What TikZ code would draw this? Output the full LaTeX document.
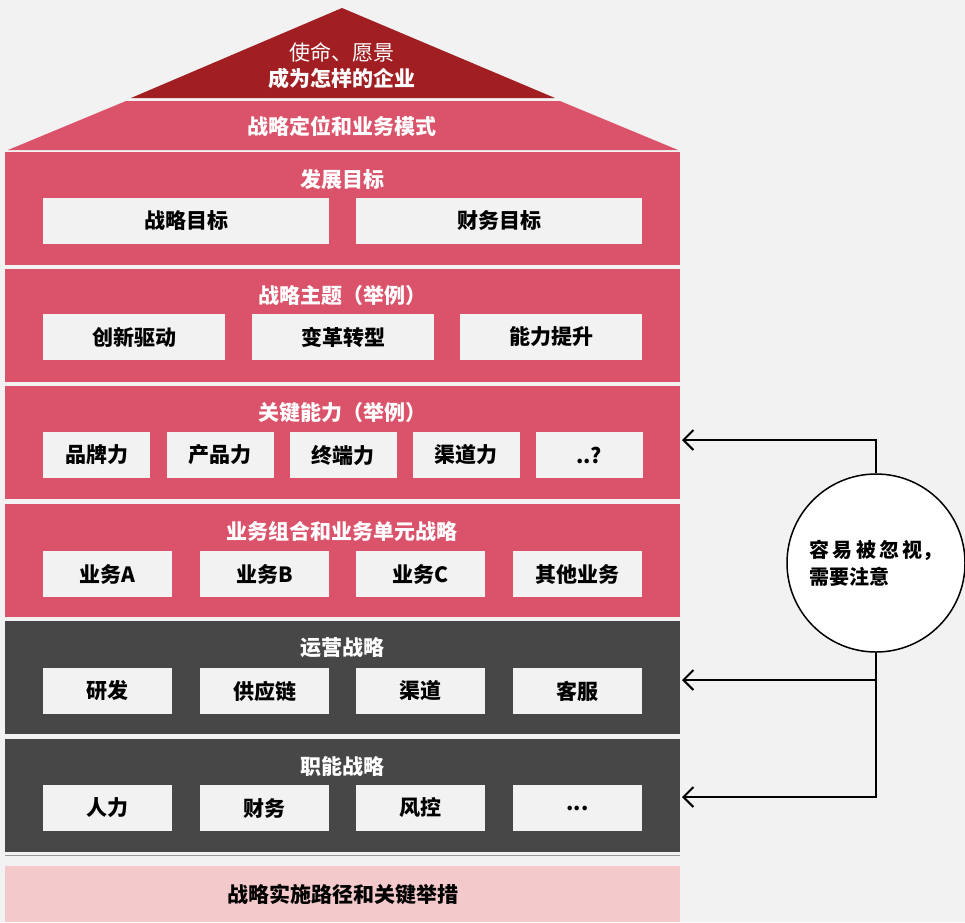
\documentclass[tikz,border=0pt]{standalone}
\usepackage{fontspec}
\setmainfont{Noto Sans CJK SC}
\usetikzlibrary{arrows.meta}
\definecolor{bg}{HTML}{F2F2F2}
\definecolor{pk}{HTML}{DB536A}
\definecolor{dred}{HTML}{A11F23}
\definecolor{dgray}{HTML}{474747}
\definecolor{lpk}{HTML}{F4C9CB}
\definecolor{boxc}{HTML}{F2F2F2}
\begin{document}
\begin{tikzpicture}[x=1pt,y=-1pt,
  rowbox/.style={rectangle,inner sep=0pt,minimum width=675pt,minimum height=113pt},
  ttl/.style={text=white,font=\bfseries\fontsize{21}{24}\selectfont,inner sep=0pt},
  item/.style={rectangle,fill=boxc,inner sep=0pt,minimum height=46pt,font=\bfseries\fontsize{21}{24}\selectfont,text=black},
  conn/.style={line width=2pt,-{Straight Barb[length=10pt,width=20pt,line width=2pt]}}]
\fill[bg] (0,0) rectangle (965,922);
\useasboundingbox (0,0) rectangle (965,922);
% roof
\fill[dred] (131,98) -- (342,8) -- (555,98) -- cycle;
\node[text=white,font=\fontsize{21}{24}\selectfont,inner sep=0pt] (mis) at (342,52) {使命、愿景};
\node[ttl] (ent) at (342,78) {成为怎样的企业};
\fill[pk] (126,101) -- (560,101) -- (678,150) -- (8,150) -- cycle;
\node[ttl] (pos) at (342,126) {战略定位和业务模式};
% rows
\node[rowbox,fill=pk] (r1) at (342.5,208.5) {};
\node[rowbox,fill=pk] (r2) at (342.5,325) {};
\node[rowbox,fill=pk] (r3) at (342.5,442.5) {};
\node[rowbox,fill=pk] (r4) at (342.5,560) {};
\node[rowbox,fill=dgray] (r5) at (342.5,677.5) {};
\node[rowbox,fill=dgray] (r6) at (342.5,795) {};
\node[ttl] (t1) at (342,180) {发展目标};
\node[ttl] (t2) at (342,296) {战略主题（举例）};
\node[ttl] (t3) at (342,413) {关键能力（举例）};
\node[ttl] (t4) at (342,531) {业务组合和业务单元战略};
\node[ttl] (t5) at (342,648) {运营战略};
\node[ttl] (t6) at (342,766) {职能战略};
% row 1
\node[item,minimum width=286pt] (b11) at (186,221) {战略目标};
\node[item,minimum width=286pt] (b12) at (499,221) {财务目标};
% row 2
\node[item,minimum width=182pt] (b21) at (134,337) {创新驱动};
\node[item,minimum width=182pt] (b22) at (343,337) {变革转型};
\node[item,minimum width=182pt] (b23) at (551,337) {能力提升};
% row 3
\node[item,minimum width=107pt] (b31) at (96.5,455) {品牌力};
\node[item,minimum width=107pt] (b32) at (220,455) {产品力};
\node[item,minimum width=107pt] (b33) at (343,455) {终端力};
\node[item,minimum width=107pt] (b34) at (466,455) {渠道力};
\node[item,minimum width=107pt] (b35) at (589,455) {..?};
% row 4
\node[item,minimum width=129pt] (b41) at (107.5,574) {业务A};
\node[item,minimum width=129pt] (b42) at (264.5,574) {业务B};
\node[item,minimum width=129pt] (b43) at (420.5,574) {业务C};
\node[item,minimum width=129pt] (b44) at (577.5,574) {其他业务};
% row 5
\node[item,minimum width=129pt] (b51) at (107.5,691) {研发};
\node[item,minimum width=129pt] (b52) at (264.5,691) {供应链};
\node[item,minimum width=129pt] (b53) at (420.5,691) {渠道};
\node[item,minimum width=129pt] (b54) at (577.5,691) {客服};
% row 6
\node[item,minimum width=129pt] (b61) at (107.5,808) {人力};
\node[item,minimum width=129pt] (b62) at (264.5,808) {财务};
\node[item,minimum width=129pt] (b63) at (420.5,808) {风控};
\node[item,minimum width=129pt] (b64) at (577.5,808) {...};
% base
\draw[line width=1.5pt,color=gray!80] (5,855.5) -- (680,855.5);
\node[rectangle,fill=lpk,inner sep=0pt,minimum width=675pt,minimum height=56pt,font=\bfseries\fontsize{21}{24}\selectfont] (base) at (342.5,894) {战略实施路径和关键举措};
% circle
\node[circle,draw=black,line width=1.5pt,fill=white,minimum size=178pt,inner sep=0pt,align=left,font=\bfseries\fontsize{20}{27}\selectfont] (circ) at (876,563) {容\,易\,被\,忽\,视，\\需要注意};
\coordinate (a1) at (682,440);
\coordinate (a2) at (682,680);
\coordinate (a3) at (682,797);
\draw[conn] (circ.north) |- (a1);
\draw[conn] (circ.south) |- (a2);
\draw[conn] (circ.south) |- (a3);
\end{tikzpicture}
\end{document}
